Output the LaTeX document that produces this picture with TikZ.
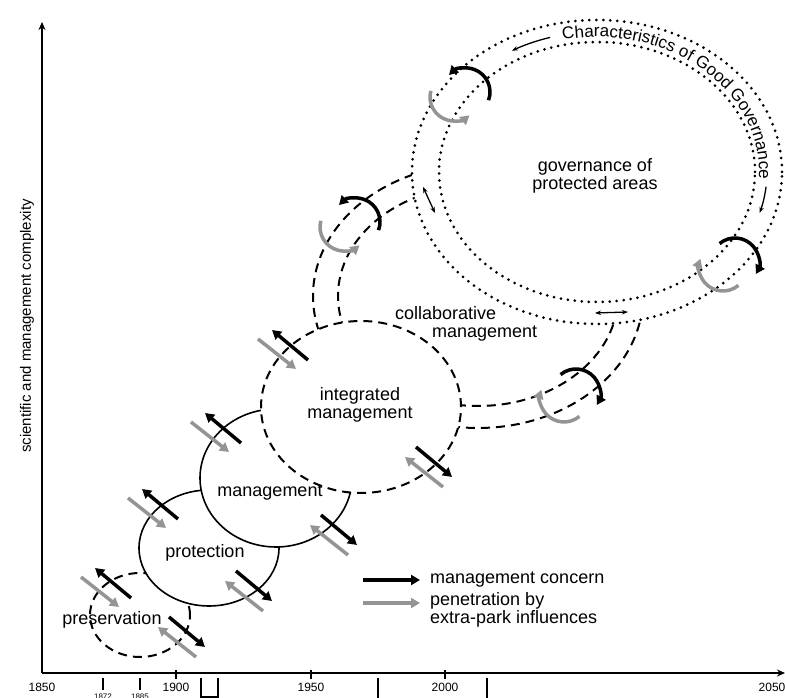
\documentclass[tikz,border=0pt]{standalone}
\usepackage{fontspec}
\setmainfont{Liberation Sans}
\usepackage{tikz}
\usetikzlibrary{arrows.meta, positioning, calc, decorations.text}

\begin{document}
\begin{tikzpicture}[x=1pt, y=1pt,
    lbl/.style={font=\fontsize{18}{18}\selectfont, align=center, inner sep=0pt},
    yr/.style={font=\fontsize{12}{12}\selectfont, inner sep=0pt},
    yrsmall/.style={font=\fontsize{8}{8}\selectfont, inner sep=0pt},
    timeaxis/.style={line width=1.6pt, -{Stealth[length=8pt, width=7pt]}},
    yrtick/.style={line width=1.6pt},
    solidring/.style={line width=1.6pt, fill=white},
    dashring/.style={line width=2pt, dash pattern=on 9pt off 6pt},
    dotring/.style={line width=3pt, line cap=round, dash pattern=on 0pt off 7pt},
    concern/.style={line width=3.5pt, black, -{Triangle[length=9pt, width=10pt]}},
    influence/.style={line width=3.5pt, black!42, -{Triangle[length=9pt, width=10pt]}},
    twoway/.style={line width=1.3pt, {Stealth[length=6pt]}-{Stealth[length=6pt]}}]

    \useasboundingbox (0,0) rectangle (785,698);

    % axes and years
    \coordinate (o) at (42,25);
    \draw[timeaxis] (o) -- (42,676);
    \draw[timeaxis] (o) -- (785,25);
    \node[rotate=90, font=\fontsize{15}{15}\selectfont, inner sep=0pt] (ylab) at (27,372) {scientific and management complexity};
    \foreach \yr/\x in {1850/42, 1900/176, 1950/311, 2000/445} {
        \node[yr] (t\yr) at (\x,11) {\yr};
    }
    \foreach \x in {176, 311, 445} {
        \draw[yrtick] (\x,28) -- (\x,19);
    }
    \node[yr] (t2050) at (772,11) {2050};
    \foreach \yr/\x in {1872/103, 1885/140} {
        \draw[yrtick] (\x,20) -- (\x,8);
        \node[yrsmall, anchor=north] (t\yr) at (\x,4) {\yr};
    }
    \draw[yrtick] (201,20) -- (201,1) -- (218,1) -- (218,20);
    \draw[yrtick] (378,20) -- (378,-2);
    \draw[yrtick] (487,20) -- (487,-2);

    % collaborative band and governance rings
    \coordinate (collab) at (478,402);
    \draw[dashring] (collab) ellipse[x radius=165, y radius=132];
    \draw[dashring] (collab) ellipse[x radius=140, y radius=110];
    \coordinate (gov) at (597,526);
    \draw[dotring, fill=white] (gov) ellipse[x radius=185, y radius=152];
    \draw[dotring] (gov) ellipse[x radius=158, y radius=130];
    \path[decorate, decoration={text along path, text align=center,
        text={|\fontsize{17}{18}\selectfont|Characteristics of Good Governance}}]
        ([shift={(103:162 and 135)}]gov) arc[start angle=103, end angle=-4, x radius=162, y radius=135];
    \draw[line width=1.3pt, -{Stealth[length=6pt]}] ([shift={(106:170 and 140)}]gov)
        arc[start angle=106, end angle=120, x radius=170, y radius=140];
    \draw[line width=1.3pt, -{Stealth[length=6pt]}] ([shift={(-6:170 and 140)}]gov)
        arc[start angle=-6, end angle=-17, x radius=170, y radius=140];

    % stages
    \draw[dashring, fill=white] (140,83) ellipse[x radius=50, y radius=42];
    \draw[solidring] (209,150) ellipse[x radius=70, y radius=58];
    \draw[solidring] (276,220) ellipse[x radius=76, y radius=69];
    \draw[dashring, fill=white] (361,291) ellipse[x radius=100, y radius=86];

    \node[lbl] (pres) at (112,78) {preservation};
    \node[lbl] (prot) at (205,145) {protection};
    \node[lbl] (mgmt) at (270,205) {management};
    \node[lbl] (integ) at (360,293) {integrated\\management};
    \node[lbl, align=left, anchor=west] (coll) at (395,374) {collaborative\\\hspace*{37pt}management};
    \node[lbl] (govtxt) at (595,522) {governance of\\protected areas};

    % arrows across the stage borders
    \foreach \px/\py in {113/115, 160/194, 223/270, 290/353} {
        \draw[influence] (\px-32,\py+6) -- (\px+6,\py-24);
        \draw[concern] (\px+18,\py-15) -- (\px-18,\py+15);
    }
    \foreach \px/\py in {187/66, 254/112, 339/168, 434/236} {
        \draw[influence] (\px+9,\py-25) -- (\px-29,\py+5);
        \draw[concern] (\px-18,\py+15) -- (\px+18,\py-15);
    }
    \foreach \cx/\cy in {356/476, 466/606} {
        \draw[influence] ([shift={(165:24)}]\cx-12,\cy-5) arc[start angle=165, end angle=310, radius=24];
        \draw[concern] ([shift={(-20:24)}]\cx,\cy) arc[start angle=-20, end angle=135, radius=24];
    }
    \foreach \cx/\cy in {735/436, 576/305} {
        \draw[influence] ([shift={(-50:24)}]\cx-12,\cy-5) arc[start angle=-50, end angle=-200, radius=24];
        \draw[concern] ([shift={(130:24)}]\cx,\cy) arc[start angle=130, end angle=-30, radius=24];
    }
    \draw[twoway] (423,511) -- (435,485);
    \draw[twoway] (595,385) -- (628,386);

    % legend
    \coordinate (lgA) at (363,118);
    \coordinate (lgB) at (363,95);
    \draw[concern] (lgA) -- ++(57,0) coordinate (lgAe);
    \draw[influence] (lgB) -- ++(57,0) coordinate (lgBe);
    \node[lbl, right=10pt of lgAe] (lgAt) {management concern};
    \node[lbl, align=left, font=\fontsize{18}{15}\selectfont, right=10pt of lgBe, yshift=-7pt] (lgBt) {penetration by\\extra-park influences};
\end{tikzpicture}
\end{document}
